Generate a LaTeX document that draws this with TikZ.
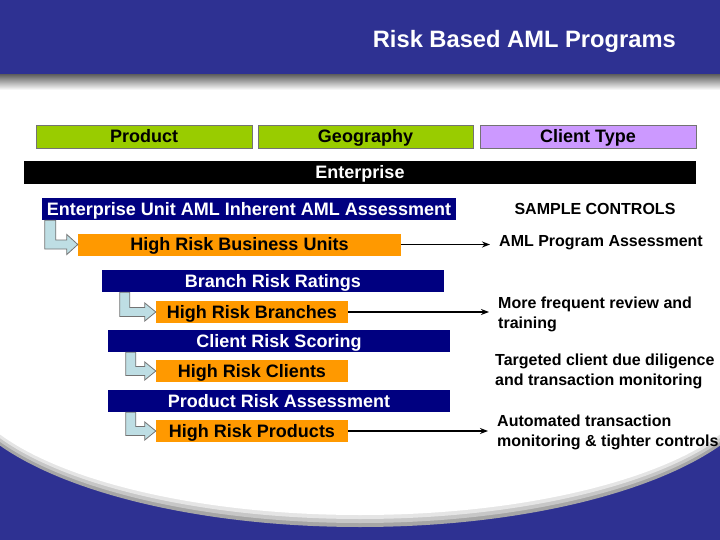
\documentclass[tikz,border=0pt]{standalone}
\usepackage{fontspec}
\setmainfont{Liberation Sans}
\usetikzlibrary{arrows.meta,calc}

\definecolor{slideblue}{RGB}{46,49,146}
\definecolor{limegreen}{RGB}{153,204,0}
\definecolor{lilac}{RGB}{204,153,255}
\definecolor{navybox}{RGB}{0,0,128}
\definecolor{orangebox}{RGB}{255,153,0}
\definecolor{bentfill}{RGB}{190,222,228}

\begin{document}
\begin{tikzpicture}[x=1pt,y=-1pt,
	box/.style={rectangle, inner sep=0pt, minimum height=23pt, font=\fontsize{18}{20}\selectfont\bfseries, text height=17pt, text depth=5pt},
	topbox/.style={box, draw=black!55, line width=0.8pt},
	navy/.style={box, fill=navybox, text=white, minimum height=22pt},
	risk/.style={box, fill=orangebox, minimum height=22pt},
	ctrl/.style={font=\fontsize{16}{20}\selectfont\bfseries, align=left, anchor=west, inner xsep=9pt, inner ysep=0pt},
	bentarrow/.style={fill=bentfill, draw=black!55, line width=0.8pt},
	ctrlarrow/.style={-{Stealth[length=8pt,width=6pt]}, line width=1.4pt}]

			\useasboundingbox (0,0) rectangle (720,540);
			\fill[slideblue] (0,0) rectangle (720,540);

			% white body, shaded along its lower rim
			\fill[black!35] (360,372) ellipse [x radius=409, y radius=155];
			\fill[black!22] (360,372) ellipse [x radius=406, y radius=151];
			\fill[black!10] (360,372) ellipse [x radius=403, y radius=147];
			\fill[white] (360,372) ellipse [x radius=400, y radius=143];
			\fill[white] (0,74) rectangle (720,372);

			% header band
			\fill[slideblue] (0,0) rectangle (720,75);
			\shade[top color=black!60, bottom color=white] (0,75) rectangle (720,90);
			\node[font=\fontsize{23.7}{26}\selectfont\bfseries, text=white, anchor=east, inner sep=0pt] (title) at (676,41) {Risk Based AML Programs};

			\node[topbox, fill=limegreen, minimum width=216pt] (product) at (144,136.5) {Product};
			\node[topbox, fill=limegreen, minimum width=215pt] (geography) at (365.5,136.5) {Geography};
			\node[topbox, fill=lilac, minimum width=216pt] (clienttype) at (588,136.5) {Client Type};
			\node[box, fill=black, text=white, minimum width=672pt] (enterprise) at (360,172.5) {Enterprise};

			\node[navy, minimum width=414pt] (unitrisk) at (249,209) {Enterprise Unit AML Inherent AML Assessment};
			\node[risk, minimum width=323pt] (hrunits) at (239.5,244.5) {High Risk Business Units};
			\node[navy, minimum width=342pt] (branchrisk) at (273,281) {Branch Risk Ratings};
			\node[risk, minimum width=192pt] (hrbranches) at (252,312) {High Risk Branches};
			\node[navy, minimum width=342pt] (clientrisk) at (279,341) {Client Risk Scoring};
			\node[risk, minimum width=192pt] (hrclients) at (252,371) {High Risk Clients};
			\node[navy, minimum width=342pt] (productrisk) at (279,401) {Product Risk Assessment};
			\node[risk, minimum width=192pt] (hrproducts) at (252,431) {High Risk Products};

			\node[font=\fontsize{16}{20}\selectfont\bfseries, inner sep=0pt] (samplectrl) at (595,209) {SAMPLE CONTROLS};
			\node[ctrl] (ctrlunits) at (490,243) {AML Program Assessment};
			\node[ctrl] (ctrlbranches) at (489,314) {More frequent review and\\training};
			\node[ctrl] (ctrlclients) at (486,371.5) {Targeted client due diligence\\and transaction monitoring};
			\node[ctrl] (ctrlproducts) at (488,432) {Automated transaction\\monitoring \& tighter controls};

			\path[bentarrow] let \p1=([xshift=3pt]unitrisk.south west), \p2=(hrunits.west) in
				(\x1,\y1) -- (\x1+11pt,\y1) -- (\x1+11pt,\y2+4.5pt) -- (\x2-11pt,\y2+4.5pt) -- (\x2-11pt,\y2+10pt)
				-- (\x2,\y2) -- (\x2-11pt,\y2-10pt) -- (\x2-11pt,\y2-4.5pt) -- (\x1,\y2-4.5pt) -- cycle;
			\path[bentarrow] let \p1=([xshift=18pt]branchrisk.south west), \p2=(hrbranches.west) in
				(\x1,\y1) -- (\x1+10pt,\y1) -- (\x1+10pt,\y2+4.5pt) -- (\x2-11pt,\y2+4.5pt) -- (\x2-11pt,\y2+9pt)
				-- (\x2,\y2) -- (\x2-11pt,\y2-9pt) -- (\x2-11pt,\y2-4.5pt) -- (\x1,\y2-4.5pt) -- cycle;
			\path[bentarrow] let \p1=([xshift=18pt]clientrisk.south west), \p2=(hrclients.west) in
				(\x1,\y1) -- (\x1+10pt,\y1) -- (\x1+10pt,\y2+4.5pt) -- (\x2-11pt,\y2+4.5pt) -- (\x2-11pt,\y2+9pt)
				-- (\x2,\y2) -- (\x2-11pt,\y2-9pt) -- (\x2-11pt,\y2-4.5pt) -- (\x1,\y2-4.5pt) -- cycle;
			\path[bentarrow] let \p1=([xshift=18pt]productrisk.south west), \p2=(hrproducts.west) in
				(\x1,\y1) -- (\x1+10pt,\y1) -- (\x1+10pt,\y2+4.5pt) -- (\x2-11pt,\y2+4.5pt) -- (\x2-11pt,\y2+9pt)
				-- (\x2,\y2) -- (\x2-11pt,\y2-9pt) -- (\x2-11pt,\y2-4.5pt) -- (\x1,\y2-4.5pt) -- cycle;

			\draw[ctrlarrow] (hrunits.east) -- (hrunits.east -| ctrlunits.west);
			\draw[ctrlarrow] (hrbranches.east) -- (hrbranches.east -| ctrlbranches.west);
			\draw[ctrlarrow] (hrproducts.east) -- (hrproducts.east -| ctrlproducts.west);

		\end{tikzpicture}
\end{document}
